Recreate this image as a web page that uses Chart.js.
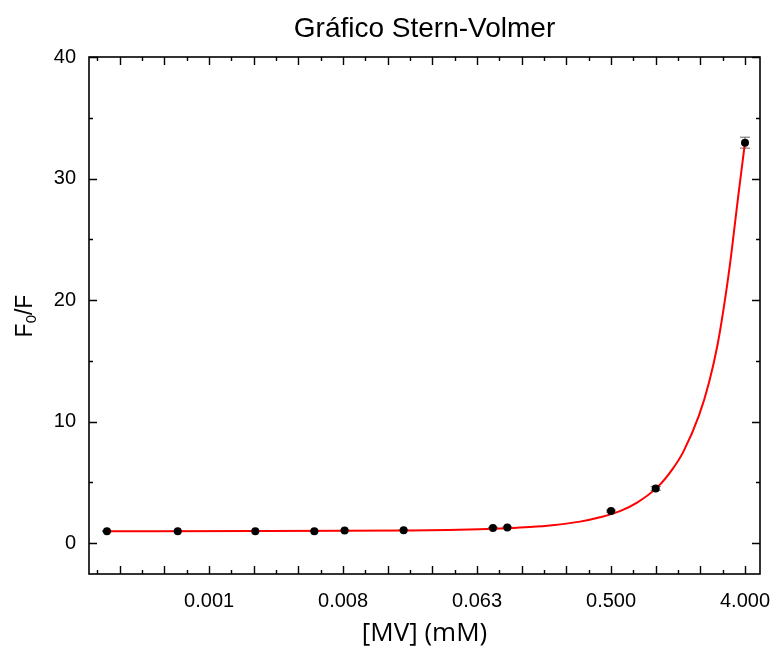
<!DOCTYPE html>
<html>
<head>
<meta charset="utf-8">
<script src="https://cdn.jsdelivr.net/npm/chart.js@4.4.1/dist/chart.umd.min.js"></script>
<style>
  html, body { margin: 0; padding: 0; background: #fff; }
</style>
</head>
<body>
<canvas id="sternChart" width="775" height="649"></canvas>
<script>
// measured points: [MV] in mM and F0/F
const concMV = [0.0002, 0.0006, 0.002, 0.005, 0.008, 0.02, 0.08, 0.1, 0.5, 1, 4]
const ratioF0F = [0.97, 0.97, 0.97, 0.97, 1.03, 1.06, 1.24, 1.28, 2.63, 4.49, 32.95]
const ratioErr = [0.03, 0.03, 0.03, 0.03, 0.03, 0.03, 0.05, 0.05, 0.08, 0.15, 0.45]

// red fit curve
const fitConc = [0.0002, 0.002, 0.008, 0.02, 0.04, 0.065, 0.1, 0.142, 0.2, 0.309, 0.421, 0.574, 0.744, 1.041, 1.302, 1.535, 1.959, 2.298, 2.62, 2.946, 3.219, 3.605, 4.0]
const fitRatio = [0.97, 0.98, 1.0, 1.03, 1.07, 1.13, 1.21, 1.31, 1.46, 1.76, 2.12, 2.62, 3.3, 4.66, 6.1, 7.5, 10.5, 13.3, 16.4, 20.2, 23.6, 28.6, 32.95]

// axis ticks
const xTickValues = [0.0009765625, 0.0078125, 0.0625, 0.5, 4]
const xTickLabels = ['0.001', '0.008', '0.063', '0.500', '4.000']
const yTickValues = [0, 10, 20, 30, 40]
const yTickLabels = ['0', '10', '20', '30', '40']

const X_MIN = Math.pow(2, -12.69)
const X_MAX = Math.pow(2, 2.336)
const FONT = '"Liberation Sans", Arial, sans-serif'

// error bars under the points
const errorBars = {
  id: 'errorBars',
  beforeDatasetsDraw(chart) {
    const {ctx, scales: {x, y}} = chart
    ctx.save()
    ctx.strokeStyle = '#666'
    ctx.lineWidth = 1
    concMV.forEach((c, i) => {
      const px = x.getPixelForValue(c)
      const top = y.getPixelForValue(ratioF0F[i] + ratioErr[i])
      const bot = y.getPixelForValue(ratioF0F[i] - ratioErr[i])
      ctx.beginPath()
      ctx.moveTo(px, top); ctx.lineTo(px, bot)
      ctx.moveTo(px - 5, top); ctx.lineTo(px + 5, top)
      ctx.moveTo(px - 5, bot); ctx.lineTo(px + 5, bot)
      ctx.stroke()
    })
    ctx.restore()
  }
}

// box frame, inward ticks on all four sides, titles
const frameTicks = {
  id: 'frameTicks',
  afterDraw(chart) {
    const {ctx, chartArea: a, scales: {x, y}} = chart
    ctx.save()
    ctx.strokeStyle = '#000'
    ctx.lineWidth = 1.6
    ctx.strokeRect(a.left, a.top, a.right - a.left, a.bottom - a.top)
    ctx.lineWidth = 1.4
    ctx.beginPath()
    for (let k = -13; k <= 3; k += 0.5) {
      const v = Math.pow(2, k)
      if (v < X_MIN || v > X_MAX) continue
      const px = Math.round(x.getPixelForValue(v)) + 0.5
      const len = Number.isInteger(k) ? 8 : 4
      ctx.moveTo(px, a.bottom); ctx.lineTo(px, a.bottom - len)
      ctx.moveTo(px, a.top); ctx.lineTo(px, a.top + len)
    }
    for (let v = 0; v <= 40; v += 5) {
      const py = Math.round(y.getPixelForValue(v)) + 0.5
      const len = v % 10 === 0 ? 8 : 4
      ctx.moveTo(a.left, py); ctx.lineTo(a.left + len, py)
      ctx.moveTo(a.right, py); ctx.lineTo(a.right - len, py)
    }
    ctx.stroke()

    // chart title, centred over the plot box
    ctx.fillStyle = '#000'
    ctx.font = '28px ' + FONT
    ctx.textAlign = 'center'
    ctx.textBaseline = 'middle'
    ctx.fillText('Gráfico Stern-Volmer', (a.left + a.right) / 2, 29)

    // y title with subscript
    ctx.textAlign = 'left'
    ctx.translate(32, 316)
    ctx.rotate(-Math.PI / 2)
    ctx.textBaseline = 'alphabetic'
    const big = '23px ' + FONT
    const small = '15px ' + FONT
    ctx.font = big
    const wF = ctx.measureText('F').width
    const wRest = ctx.measureText('/F').width
    ctx.font = small
    const w0 = ctx.measureText('0').width
    let cx = -(wF + w0 + wRest) / 2
    ctx.font = big
    ctx.fillText('F', cx, 0); cx += wF
    ctx.font = small
    ctx.fillText('0', cx, 4); cx += w0
    ctx.font = big
    ctx.fillText('/F', cx, 0)
    ctx.restore()
  }
}

const ctx = document.getElementById('sternChart')

new Chart(ctx, {
  type: 'scatter',
  data: {
    datasets: [{
      label: 'dados',
      data: concMV.map((c, i) => ({x: c, y: ratioF0F[i]})),
      backgroundColor: '#000',
      borderWidth: 0,
      pointRadius: 4,
      showLine: false
    }, {
      label: 'ajuste',
      data: fitConc.map((c, i) => ({x: c, y: fitRatio[i]})),
      borderColor: '#ff0000',
      borderWidth: 2,
      pointRadius: 0,
      showLine: true,
      cubicInterpolationMode: 'monotone'
    }]
  },
  options: {
    responsive: false,
    animation: false,
    layout: { padding: { left: 0, right: 15, top: 57, bottom: 0 } },
    plugins: {
      legend: { display: false },
      tooltip: { enabled: false },
      title: { display: false }
    },
    scales: {
      x: {
        type: 'logarithmic',
        min: X_MIN,
        max: X_MAX,
        afterBuildTicks: s => { s.ticks = xTickValues.map(v => ({value: v})) },
        afterFit: s => { s.height = 75; s.paddingLeft = 0; s.paddingRight = 0 },
        grid: { display: false, drawTicks: false },
        border: { display: false },
        ticks: {
          color: '#000',
          padding: 15,
          maxRotation: 0,
          autoSkip: false,
          font: { family: FONT, size: 20 },
          callback: (val, i) => xTickLabels[i]
        },
        title: {
          display: true,
          text: '[MV] (mM)',
          color: '#000',
          font: { family: '"Open Sans", sans-serif', size: 26 },
          padding: { top: 0, bottom: 0 }
        }
      },
      y: {
        min: -2.55,
        max: 40,
        afterBuildTicks: s => { s.ticks = yTickValues.map(v => ({value: v})) },
        afterFit: s => { s.width = 89; s.paddingTop = 0; s.paddingBottom = 0 },
        grid: { display: false, drawTicks: false },
        border: { display: false },
        ticks: {
          color: '#000',
          padding: 13,
          font: { family: FONT, size: 20 },
          callback: (val, i) => yTickLabels[i]
        }
      }
    }
  },
  plugins: [errorBars, frameTicks]
})
</script>
</body>
</html>
